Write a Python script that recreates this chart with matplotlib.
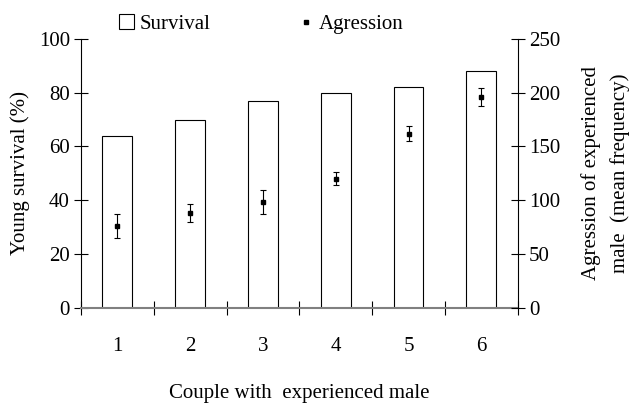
import numpy as np
import matplotlib.pyplot as plt
from matplotlib.lines import Line2D
from matplotlib.patches import Patch

plt.rcParams['font.family'] = ['Liberation Serif', 'DejaVu Serif']

couples = ["1", "2", "3", "4", "5", "6"]
survival = [64, 70, 77, 80, 82, 88]
aggression = [76, 88, 98, 120, 162, 196]
aggression_err = [11, 8, 11, 6, 7, 8.5]

x = np.arange(len(couples))
fs = 15

fig = plt.figure(figsize=(6.3, 4.03), dpi=100)
ax = fig.add_axes([0.1286, 0.2365, 0.6932, 0.667])
ax.bar(x, survival, width=0.41, facecolor="white", edgecolor="black", linewidth=0.8, zorder=2)
ax.set_ylim(0, 100)
ax.set_xlim(-0.5, len(couples) - 0.5)
ax.set_yticks([0, 20, 40, 60, 80, 100])
ax.set_xticks(x)
ax.set_xticklabels(couples)
ax.set_xticks(np.arange(-0.5, len(couples), 1.0), minor=True)
ax.tick_params(axis="x", which="major", length=0, pad=21, labelsize=fs)
ax.tick_params(axis="x", which="minor", direction="inout", length=10, width=0.8)
ax.tick_params(axis="y", direction="inout", length=10, width=0.8, labelsize=fs, pad=3)
ax.spines["top"].set_visible(False)
ax.spines["right"].set_visible(False)
ax.spines["bottom"].set_color("#808080")
ax.spines["bottom"].set_linewidth(1.5)
ax.spines["left"].set_linewidth(0.8)
ax.set_ylabel("Young survival (%)", fontsize=fs, labelpad=6)
ax.set_xlabel("Couple with  experienced male", fontsize=fs, labelpad=20)

ax2 = ax.twinx()
ax2.errorbar(x, aggression, yerr=aggression_err, fmt="s", color="black", markersize=3.5,
             elinewidth=0.8, capsize=2.5, capthick=0.8, zorder=3)
ax2.set_ylim(0, 250)
ax2.set_yticks([0, 50, 100, 150, 200, 250])
ax2.tick_params(axis="y", direction="inout", length=10, width=0.8, labelsize=fs, pad=3)
for s in ["top", "left", "bottom"]:
    ax2.spines[s].set_visible(False)
ax2.spines["right"].set_linewidth(0.8)
ax2.set_ylabel("Agression of experienced\nmale  (mean frequency)", fontsize=fs,
               labelpad=15, linespacing=1.65)

handles = [Patch(facecolor="white", edgecolor="black", linewidth=0.8),
           Line2D([], [], marker="s", color="black", linestyle="none", markersize=3)]
fig.legend(handles, ["Survival", "Agression"], loc="center left",
           bbox_to_anchor=(119 / 630, 1 - 24 / 403), ncol=2, frameon=False, fontsize=fs,
           columnspacing=4.2, handlelength=0.7, handletextpad=0.3,
           borderpad=0, borderaxespad=0)

fig.savefig("out.png", dpi=100)
